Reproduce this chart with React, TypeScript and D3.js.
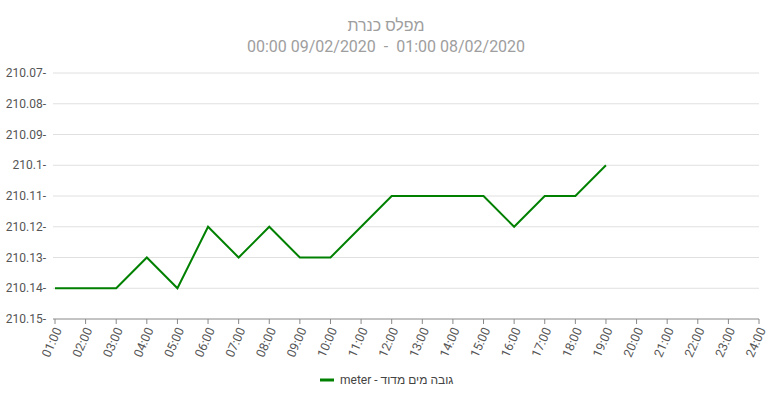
import React from "react";
import * as d3 from "d3";

const hours = ["01:00","02:00","03:00","04:00","05:00","06:00","07:00","08:00","09:00","10:00","11:00","12:00","13:00","14:00","15:00","16:00","17:00","18:00","19:00","20:00","21:00","22:00","23:00","24:00"];
const values = [210.14,210.14,210.14,210.13,210.14,210.12,210.13,210.12,210.13,210.13,210.12,210.11,210.11,210.11,210.11,210.12,210.11,210.11,210.10];
const yTicks = [210.07,210.08,210.09,210.1,210.11,210.12,210.13,210.14,210.15];
const titleLine1 = "מפלס כנרת";
const titleLine2 = "00:00 09/02/2020  -  01:00 08/02/2020";
const legendLabel = "meter - גובה מים מדוד";

export default function App() {
  const W = 772, H = 402;
  const left = 55, right = 759, top = 73, bottom = 319;
  const x = d3.scalePoint<string>().domain(hours).range([left, right]);
  const y = d3.scaleLinear().domain([210.07, 210.15]).range([top, bottom]);
  const line = d3.line<number>().x((_, i) => x(hours[i])!).y((d) => y(d));
  const font = "Roboto, sans-serif";
  return (
    <svg width={W} height={H} style={{ position: "absolute", left: 0, top: 0, fontFamily: font }}>
      <rect width={W} height={H} fill="#fff" />
      <text x={386} y={31} textAnchor="middle" fontSize={16} fill="#9e9e9e">{titleLine1}</text>
      <text x={386} y={52} textAnchor="middle" fontSize={16} fill="#9e9e9e" style={{ whiteSpace: "pre" }}>{titleLine2}</text>
      {yTicks.map((t) => (
        <g key={t}>
          {t !== 210.15 && <line x1={left - 2} x2={right} y1={y(t)} y2={y(t)} stroke="#e0e0e0" strokeWidth={1} />}
          <text x={46} y={y(t)} dy="0.35em" textAnchor="end" fontSize={12} fill="#555">{String(t) + "-"}</text>
        </g>
      ))}
      <line x1={left - 2} x2={right} y1={bottom} y2={bottom} stroke="#888" strokeWidth={1} />
      {hours.map((h) => (
        <g key={h}>
          <line x1={x(h)} x2={x(h)} y1={bottom} y2={bottom + 5} stroke="#888" strokeWidth={1} />
          <text transform={`translate(${x(h)! + 3},${bottom + 9}) rotate(-66)`} dy="0.35em" textAnchor="end" fontSize={12.5} fill="#555">{h}</text>
        </g>
      ))}
      <path d={line(values) || ""} fill="none" stroke="#008000" strokeWidth={2} />
      <line x1={320} x2={334} y1={380} y2={380} stroke="#008000" strokeWidth={3} />
      <text x={340} y={380} dy="0.35em" fontSize={12} fill="#444">{legendLabel}</text>
    </svg>
  );
}
